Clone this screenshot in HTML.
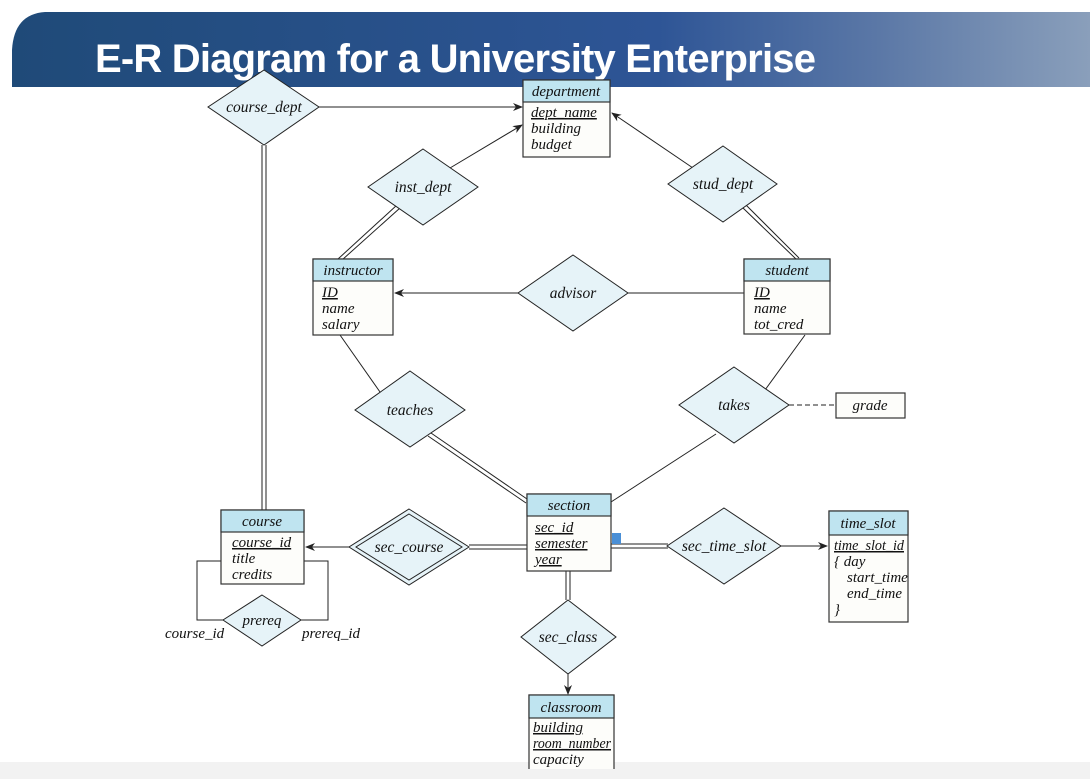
<!DOCTYPE html>
<html><head><meta charset="utf-8"><style>
html,body{margin:0;padding:0;background:#fff;width:1090px;height:779px;overflow:hidden}
svg{display:block}
text{font-family:"Liberation Serif",serif;font-style:italic;font-size:15px;fill:#111}
.t{font-family:"Liberation Sans",sans-serif;font-style:normal;font-weight:bold;font-size:40px;fill:#fff;letter-spacing:-0.8px}
.h{font-size:15px}
.r{font-size:15.5px}
.d{fill:#e6f3f8;stroke:#222;stroke-width:1}
.e{fill:#fdfdfa;stroke:#333;stroke-width:1.2}
.eh{fill:#bfe4f0;stroke:#333;stroke-width:1.2}
.l{stroke:#222;stroke-width:1;fill:none}
</style></head><body>
<svg width="1090" height="779" viewBox="0 0 1090 779">
<defs>
<linearGradient id="g" x1="0" x2="1" y1="0" y2="0">
<stop offset="0" stop-color="#1f4a78"/><stop offset="0.6" stop-color="#2e5596"/><stop offset="0.8" stop-color="#5a77a6"/><stop offset="1" stop-color="#8a9fbb"/>
</linearGradient>
<marker id="a" markerWidth="10" markerHeight="8" refX="9" refY="4" orient="auto" markerUnits="userSpaceOnUse"><path d="M0,0 L10,4 L0,8 L3,4 z" fill="#222"/></marker>
</defs>
<path d="M12,87 L12,50 Q14,14 45,12 L1090,12 L1090,87 Z" fill="url(#g)"/>
<text x="95" y="72" class="t">E-R Diagram for a University Enterprise</text>
<rect x="0" y="762" width="1090" height="17" fill="#f2f2f2"/>

<line class="l" x1="319" y1="107" x2="522" y2="107" marker-end="url(#a)"/>
<line class="l" x1="262" y1="145" x2="262" y2="510"/><line class="l" x1="266" y1="145" x2="266" y2="510"/>
<line class="l" x1="450" y1="168" x2="522" y2="125" marker-end="url(#a)"/>
<line class="l" x1="397" y1="205" x2="338" y2="259"/><line class="l" x1="400" y1="208" x2="342" y2="260"/>
<line class="l" x1="693" y1="168" x2="612" y2="113" marker-end="url(#a)"/>
<line class="l" x1="743" y1="208" x2="796" y2="259"/><line class="l" x1="746" y1="205" x2="799" y2="258"/>
<line class="l" x1="518" y1="293" x2="395" y2="293" marker-end="url(#a)"/>
<line class="l" x1="628" y1="293" x2="744" y2="293"/>
<line class="l" x1="340" y1="335" x2="380" y2="392"/>
<line class="l" x1="428" y1="436" x2="526" y2="503"/><line class="l" x1="431" y1="433" x2="527" y2="499"/>
<line class="l" x1="805" y1="335" x2="765" y2="390"/>
<line class="l" x1="716" y1="434" x2="611" y2="502"/>
<line class="l" x1="789" y1="405" x2="836" y2="405" stroke-dasharray="5,3"/>
<line class="l" x1="469" y1="545" x2="527" y2="545"/><line class="l" x1="469" y1="549" x2="527" y2="549"/>
<line class="l" x1="349" y1="547" x2="306" y2="547" marker-end="url(#a)"/>
<line class="l" x1="611" y1="544" x2="668" y2="544"/><line class="l" x1="611" y1="548" x2="668" y2="548"/>
<line class="l" x1="781" y1="546" x2="827" y2="546" marker-end="url(#a)"/>
<line class="l" x1="566" y1="571" x2="566" y2="600"/><line class="l" x1="570" y1="571" x2="570" y2="600"/>
<line class="l" x1="568" y1="668" x2="568" y2="694" marker-end="url(#a)"/>
<polyline class="l" points="221,561 197,561 197,620 224,620"/>
<polyline class="l" points="304,561 328,561 328,620 300,620"/>
<rect x="612" y="533" width="9" height="11" fill="#4a8fd6"/>

<polygon class="d" points="264,70 319,107 264,145 208,107"/><text x="264" y="112" text-anchor="middle" class="r">course_dept</text>
<polygon class="d" points="423,149 478,187 423,225 368,187"/><text x="423" y="192" text-anchor="middle" class="r">inst_dept</text>
<polygon class="d" points="723,146 777,184 723,222 668,184"/><text x="723" y="189" text-anchor="middle" class="r">stud_dept</text>
<polygon class="d" points="573,255 628,293 573,331 518,293"/><text x="573" y="298" text-anchor="middle" class="r">advisor</text>
<polygon class="d" points="410,371 465,410 410,447 355,410"/><text x="410" y="415" text-anchor="middle" class="r">teaches</text>
<polygon class="d" points="734,367 789,405 734,443 679,405"/><text x="734" y="410" text-anchor="middle" class="r">takes</text>
<polygon class="d" points="409,509 469,547 409,585 349,547"/><polygon class="l" points="409,514 462,547 409,580 356,547"/><text x="409" y="552" text-anchor="middle" class="r">sec_course</text>
<polygon class="d" points="724,508 781,546 724,584 667,546"/><text x="724" y="551" text-anchor="middle" class="r">sec_time_slot</text>
<polygon class="d" points="568,600 616,637 568,674 521,637"/><text x="568" y="642" text-anchor="middle" class="r">sec_class</text>
<polygon class="d" points="262,595 301,620 262,646 223,620"/><text x="262" y="625" text-anchor="middle" font-size="16">prereq</text>
<text x="165" y="638" font-size="12.5">course_id</text>
<text x="302" y="638" font-size="12.5">prereq_id</text>

<rect class="e" x="523" y="80" width="87" height="77"/><rect class="eh" x="523" y="80" width="87" height="22"/>
<text x="566" y="96" text-anchor="middle" class="h">department</text>
<text x="531" y="117" font-size="13" text-decoration="underline">dept_name</text><text x="531" y="133" font-size="13">building</text><text x="531" y="149" font-size="13">budget</text>

<rect class="e" x="313" y="259" width="80" height="76"/><rect class="eh" x="313" y="259" width="80" height="22"/>
<text x="353" y="275" text-anchor="middle" class="h">instructor</text>
<text x="322" y="297" font-size="13" text-decoration="underline">ID</text><text x="322" y="313" font-size="13">name</text><text x="322" y="329" font-size="13">salary</text>

<rect class="e" x="744" y="259" width="86" height="75"/><rect class="eh" x="744" y="259" width="86" height="22"/>
<text x="787" y="275" text-anchor="middle" class="h">student</text>
<text x="754" y="297" font-size="13" text-decoration="underline">ID</text><text x="754" y="313" font-size="13">name</text><text x="754" y="329" font-size="13">tot_cred</text>

<rect class="e" x="836" y="393" width="69" height="25"/><text x="870" y="410" text-anchor="middle" class="h">grade</text>

<rect class="e" x="527" y="494" width="84" height="77"/><rect class="eh" x="527" y="494" width="84" height="22"/>
<text x="569" y="510" text-anchor="middle" class="h">section</text>
<text x="535" y="532" font-size="13" text-decoration="underline">sec_id</text><text x="535" y="548" font-size="13" text-decoration="underline">semester</text><text x="535" y="564" font-size="13" text-decoration="underline">year</text>

<rect class="e" x="221" y="510" width="83" height="74"/><rect class="eh" x="221" y="510" width="83" height="22"/>
<text x="262" y="526" text-anchor="middle" class="h">course</text>
<text x="232" y="547" font-size="13" text-decoration="underline">course_id</text><text x="232" y="563" font-size="13">title</text><text x="232" y="579" font-size="13">credits</text>

<rect class="e" x="829" y="511" width="79" height="111"/><rect class="eh" x="829" y="511" width="79" height="24"/>
<text x="868" y="528" text-anchor="middle" class="h">time_slot</text>
<text x="834" y="550" font-size="13" text-decoration="underline" textLength="70" lengthAdjust="spacingAndGlyphs">time_slot_id</text>
<text x="834" y="566" font-size="13">{  day</text><text x="847" y="582" font-size="13">start_time</text><text x="847" y="598" font-size="13">end_time</text><text x="834" y="614" font-size="13">}</text>

<rect class="e" x="529" y="695" width="85" height="80"/><rect class="eh" x="529" y="695" width="85" height="23"/>
<text x="571" y="712" text-anchor="middle" class="h">classroom</text>
<text x="533" y="732" font-size="13" text-decoration="underline">building</text><text x="533" y="748" font-size="13" text-decoration="underline" textLength="78" lengthAdjust="spacingAndGlyphs">room_number</text><text x="533" y="764" font-size="13">capacity</text>
<rect x="0" y="769" width="1090" height="10" fill="#f2f2f2"/>
</svg>
</body></html>
